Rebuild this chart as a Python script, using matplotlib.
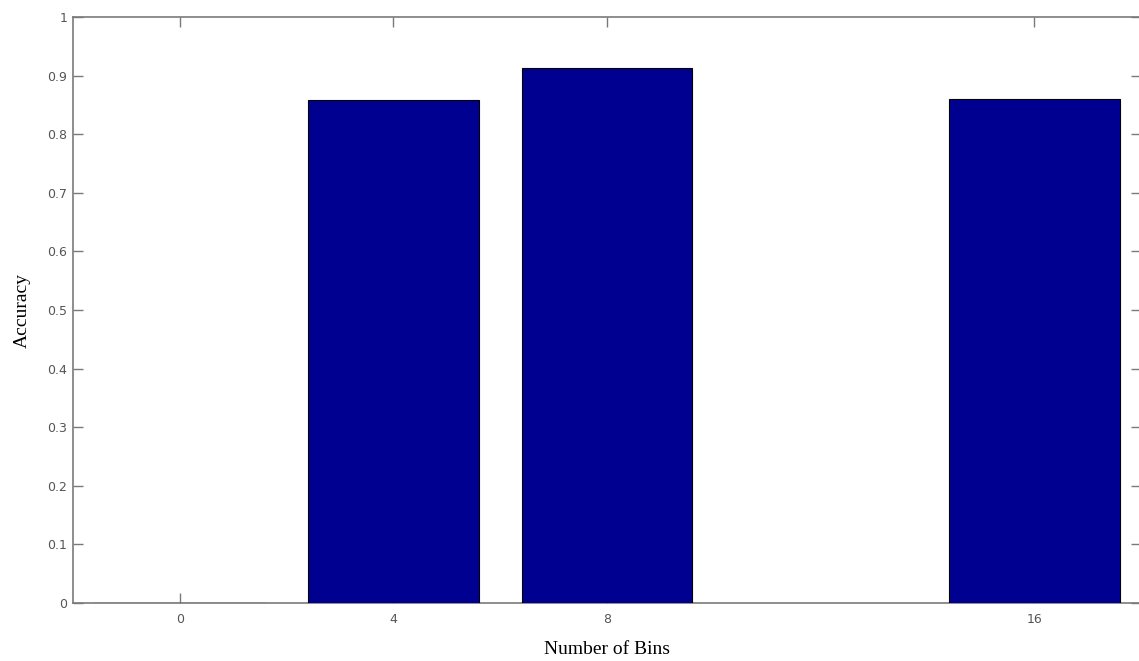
import matplotlib
matplotlib.use("Agg")
import matplotlib.pyplot as plt

bins = [0, 4, 8, 16]
accuracy = [0.0, 0.858, 0.913, 0.86]
yticks = [0, 0.1, 0.2, 0.3, 0.4, 0.5, 0.6, 0.7, 0.8, 0.9, 1]
ytick_labels = ["0", "0.1", "0.2", "0.3", "0.4", "0.5", "0.6", "0.7", "0.8", "0.9", "1"]

fig = plt.figure(figsize=(11.39, 6.61), dpi=100)
ax = fig.add_axes([73 / 1139, 58 / 661, 1068 / 1139, 586 / 661])

ax.bar(bins, accuracy, width=3.2, color="#000090", edgecolor="black",
       linewidth=0.8, zorder=3)
ax.set_axisbelow(True)

ax.set_xlim(-2, 18)
ax.set_ylim(0, 1)
ax.set_xticks(bins)
ax.set_xticklabels([str(b) for b in bins])
ax.set_yticks(yticks)
ax.set_yticklabels(ytick_labels)

for s in ax.spines.values():
    s.set_color("#7a7a7a")
    s.set_linewidth(1.2)
    s.set_zorder(2)
ax.tick_params(direction="in", length=7, width=1, color="#7a7a7a",
               labelcolor="#555555", labelsize=9,
               top=True, right=True, pad=4)
ax.tick_params(axis="x", pad=7)

ax.set_xlabel("Number of Bins", fontfamily="Liberation Serif", fontsize=14, labelpad=11)
ax.set_ylabel("Accuracy", fontfamily="Liberation Serif", fontsize=14, labelpad=12)

fig.savefig("out.png", dpi=100)
